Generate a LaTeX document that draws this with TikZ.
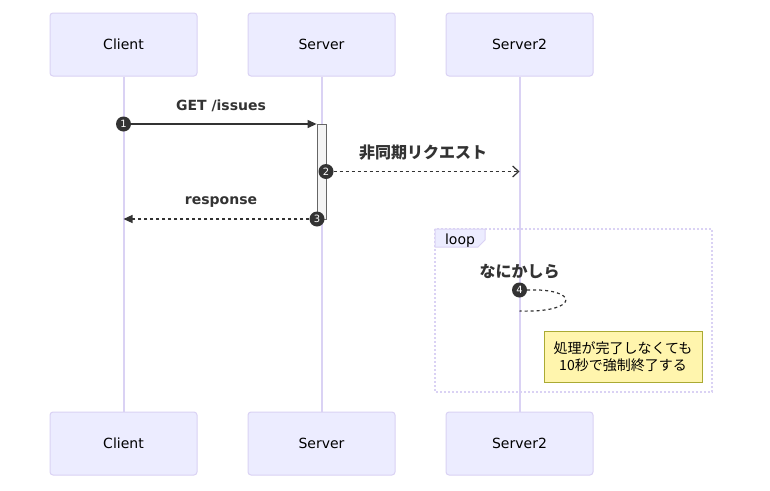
\documentclass[tikz,border=0pt]{standalone}
\usepackage{fontspec}
\setmainfont{DejaVu Sans}
\newfontfamily\jpfont{Noto Sans CJK JP}
\usetikzlibrary{arrows.meta}
\definecolor{Sbox}{RGB}{236,236,255}
\definecolor{Sline}{RGB}{218,210,244}
\definecolor{Stext}{RGB}{51,51,51}
\definecolor{Sact}{RGB}{244,244,244}
\definecolor{Sactline}{RGB}{102,102,102}
\definecolor{Snote}{RGB}{255,245,173}
\definecolor{Snoteline}{RGB}{170,170,51}
% actor box on top and bottom, plus its lifeline
\newcommand{\Sactor}[3]{%
    \node[actorbox] (#1top) at (#2, 44.5) {#3};
    \node[actorbox] (#1bot) at (#2, 443.5) {#3};
    \draw[lifeline] (#1top.south) -- (#1bot.north);
  }

\begin{document}
\begin{tikzpicture}[x=1pt,y=-1pt,
    every node/.style={font=\fontsize{14}{17}\selectfont, text=black},
    actorbox/.style={draw=Sline, fill=Sbox, rounded corners=3pt,
      minimum width=147pt, minimum height=63pt, inner sep=0pt, line width=1pt},
    lifeline/.style={draw=Sline, line width=2pt},
    seqnum/.style={circle, fill=Stext, text=white, inner sep=0pt,
      minimum size=15pt, font=\fontsize{10}{11}\selectfont},
    msglabel/.style={font=\fontsize{14}{17}\selectfont\bfseries, text=Stext},
    jplabel/.style={font=\jpfont\fontsize{16}{19}\selectfont\bfseries, text=Stext},
    msg/.style={draw=Stext, line width=1.2pt, -{Triangle[length=9pt,width=8pt]}},
    reply/.style={msg, dash pattern=on 3pt off 3pt},
    asyncmsg/.style={draw=Stext, line width=1.2pt, dash pattern=on 3pt off 3pt,
      -{Straight Barb[length=6pt,width=11pt,line width=1.2pt]}}]

  \useasboundingbox[fill=white] (0,0) rectangle (770,490);

  % ------------------------------------------------
  % participants
  % ------------------------------------------------
  \Sactor{cli}{123.5}{Client}
  \Sactor{srv}{321.5}{Server}
  \Sactor{srvtwo}{519.5}{Server2}

  % activation on Server
  \node[draw=Sactline, fill=Sact, minimum width=9pt, minimum height=95pt,
    inner sep=0pt, line width=0.8pt] (act) at (321.5,171.5) {};

  % ------------------------------------------------
  % messages
  % ------------------------------------------------
  \node[msglabel] (lab1) at (221,106) {GET /issues};
  \node[seqnum] (n1) at (123.5,124) {1};
  \draw[msg] (n1) -- (n1 -| act.west);

  \node[jplabel] (lab2) at (423,153) {非同期リクエスト};
  \node[seqnum] (n2) at (326,171.5) {2};
  \draw[asyncmsg] (n2) -- (n2 -| srvtwotop);

  \node[msglabel] (lab3) at (221,202) {response};
  \node[seqnum] (n3) at (317,219) {3};
  \draw[reply] (n3) -- (n3 -| clitop);

  % ------------------------------------------------
  % loop frame
  % ------------------------------------------------
  \draw[Sline, line width=2pt, dash pattern=on 2pt off 2pt] (435,229) rectangle (712,392);
  \draw[Sline, fill=Sbox, line width=1pt]
    (435,229) -- (485,229) -- (485,240) -- (478,247) -- (435,247) -- cycle;
  \node (looplab) at (460,241) {loop};

  % self message
  \node[jplabel] (lab4) at (519.5,272) {なにかしら};
  \node[seqnum] (n4) at (519.5,290) {4};
  \draw[draw=Stext, line width=1.2pt, dash pattern=on 3pt off 3pt]
    (n4.east) .. controls (580,288) and (580,313) .. (519.5,311);

  % note
  \node[draw=Snoteline, fill=Snote, minimum width=158pt, minimum height=51pt,
    align=center, inner sep=0pt, line width=1pt,
    font=\jpfont\fontsize{14}{17}\selectfont] (note) at (623,356.5)
    {処理が完了しなくても\\10秒で強制終了する};
\end{tikzpicture}
\end{document}
